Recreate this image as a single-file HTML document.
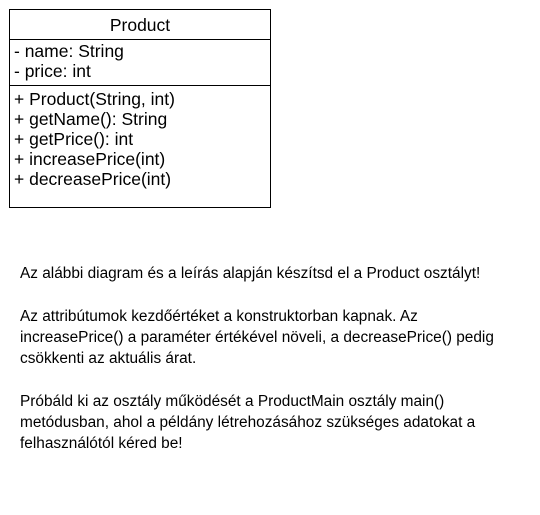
<!DOCTYPE html>
<html><head><style>
body{margin:0;width:540px;height:515px;background:#fff;position:relative;font-family:"Liberation Sans",Arial,sans-serif;}
.box{position:absolute;left:9px;top:9px;width:260px;height:197px;border:1px solid #000;}
.t{position:absolute;left:0;white-space:nowrap;font-size:17.5px;line-height:20px;color:#000}
.hr{position:absolute;left:0;width:260px;border-top:1px solid #000;}
.p{position:absolute;left:20px;font-size:15.4px;line-height:21px;white-space:nowrap;color:#000}
</style></head><body>
<div class="box">
<div class="t" style="width:260px;text-align:center;top:5px">Product</div>
<div class="hr" style="top:29px"></div>
<div class="t" style="left:4px;top:31px">- name: String</div>
<div class="t" style="left:4px;top:51px">- price: int</div>
<div class="hr" style="top:75px"></div>
<div class="t" style="left:4px;top:79px">+ Product(String, int)</div>
<div class="t" style="left:4px;top:99px">+ getName(): String</div>
<div class="t" style="left:4px;top:119px">+ getPrice(): int</div>
<div class="t" style="left:4px;top:139px">+ increasePrice(int)</div>
<div class="t" style="left:4px;top:159px">+ decreasePrice(int)</div>
</div>
<div class="p" style="top:263px">Az alábbi diagram és a leírás alapján készítsd el a Product osztályt!</div>
<div class="p" style="top:306px">Az attribútumok kezdőértéket a konstruktorban kapnak. Az</div>
<div class="p" style="top:327px">increasePrice() a paraméter értékével növeli, a decreasePrice() pedig</div>
<div class="p" style="top:348px">csökkenti az aktuális árat.</div>
<div class="p" style="top:391px">Próbáld ki az osztály működését a ProductMain osztály main()</div>
<div class="p" style="top:412px">metódusban, ahol a példány létrehozásához szükséges adatokat a</div>
<div class="p" style="top:433px">felhasználótól kéred be!</div>
</body></html>
